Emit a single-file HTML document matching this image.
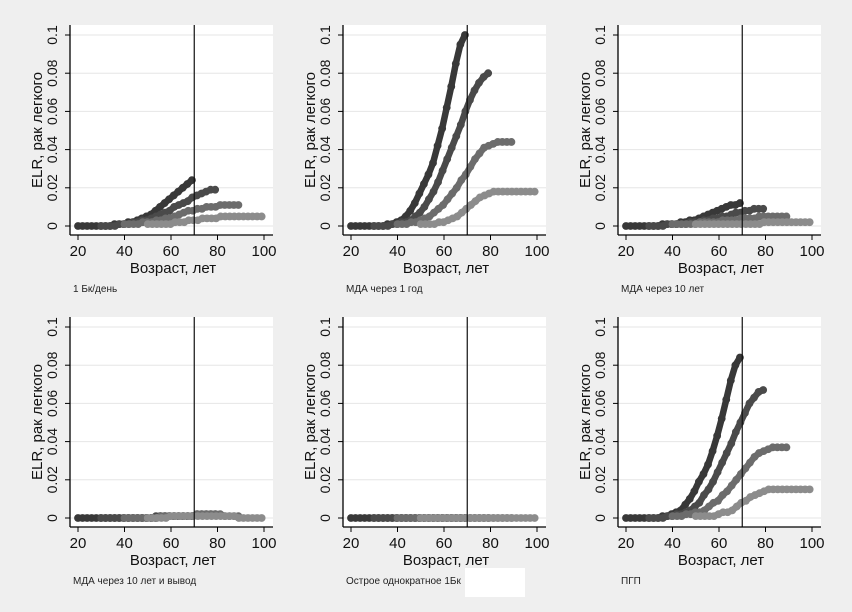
<!DOCTYPE html>
<html><head><meta charset="utf-8"><style>
html,body{margin:0;padding:0;background:#efefef}
svg{display:block;font-family:"Liberation Sans",sans-serif}
</style></head><body>
<svg id="chart" width="852" height="612" viewBox="0 0 852 612"></svg>
<script>
const panelTitles = ["1 Бк/день","МДА через 1 год","МДА через 10 лет","МДА через 10 лет и вывод","Острое однократное 1Бк","ПГП"];
const seriesStarts = [20,30,40,50];
const ageStep = 1.96;
const xTicks = [20,40,60,80,100];
const yTicks = [0,0.02,0.04,0.06,0.08,0.1];
const yTickLabels = ["0","0.02","0.04","0.06","0.08","0.1"];
const refAge = 70;
const p1s1=[0,0,0,0,0,0,0,0,0.001,0.001,0.001,0.002,0.002,0.003,0.004,0.005,0.006,0.008,0.010,0.012,0.014,0.016,0.018,0.020,0.022,0.024];
const p1s2=[0,0,0,0,0.001,0.001,0.001,0.002,0.002,0.003,0.003,0.004,0.005,0.006,0.007,0.008,0.010,0.011,0.012,0.013,0.015,0.016,0.017,0.018,0.019,0.019];
const p1s3=[0.001,0.001,0.001,0.001,0.002,0.002,0.002,0.003,0.003,0.004,0.004,0.005,0.006,0.007,0.008,0.008,0.009,0.009,0.010,0.010,0.010,0.011,0.011,0.011,0.011,0.011];
const p1s4=[0.001,0.001,0.001,0.001,0.001,0.001,0.002,0.002,0.002,0.003,0.003,0.003,0.004,0.004,0.004,0.004,0.005,0.005,0.005,0.005,0.005,0.005,0.005,0.005,0.005,0.005];
const p2s1=[0,0,0,0,0,0,0,0,0.001,0.001,0.002,0.003,0.005,0.008,0.012,0.017,0.022,0.027,0.033,0.042,0.051,0.062,0.073,0.085,0.095,0.100];
const p2s2=[0,0,0,0,0.001,0.001,0.002,0.002,0.003,0.005,0.007,0.010,0.014,0.018,0.023,0.029,0.035,0.041,0.047,0.053,0.060,0.066,0.071,0.075,0.078,0.080];
const p2s3=[0.001,0.001,0.001,0.002,0.002,0.003,0.004,0.005,0.007,0.009,0.011,0.014,0.017,0.020,0.024,0.027,0.031,0.035,0.038,0.041,0.042,0.043,0.044,0.044,0.044,0.044];
const p2s4=[0.001,0.001,0.001,0.001,0.002,0.002,0.003,0.004,0.005,0.007,0.009,0.011,0.013,0.015,0.016,0.017,0.018,0.018,0.018,0.018,0.018,0.018,0.018,0.018,0.018,0.018];
const p3s1=[0,0,0,0,0,0,0,0,0.001,0.001,0.001,0.001,0.002,0.002,0.003,0.003,0.004,0.005,0.006,0.007,0.008,0.009,0.010,0.011,0.011,0.012];
const p3s2=[0,0,0,0,0.001,0.001,0.001,0.001,0.001,0.002,0.002,0.002,0.003,0.003,0.004,0.004,0.005,0.005,0.006,0.007,0.007,0.008,0.008,0.009,0.009,0.009];
const p3s3=[0.001,0.001,0.001,0.001,0.001,0.001,0.002,0.002,0.002,0.002,0.002,0.003,0.003,0.003,0.003,0.004,0.004,0.004,0.004,0.005,0.005,0.005,0.005,0.005,0.005,0.005];
const p3s4=[0.001,0.001,0.001,0.001,0.001,0.001,0.001,0.001,0.001,0.001,0.001,0.001,0.001,0.001,0.001,0.002,0.002,0.002,0.002,0.002,0.002,0.002,0.002,0.002,0.002,0.002];
const p4s1=[0,0,0,0,0,0,0,0,0,0,0,0,0,0,0,0,0,0,0.001,0.001,0.001,0.001,0.001,0.001,0.001,0.001];
const p4s2=[0,0,0,0,0,0,0,0,0,0,0,0,0.001,0.001,0.001,0.001,0.001,0.001,0.001,0.001,0.001,0.002,0.002,0.002,0.002,0.002];
const p4s3=[0,0,0,0,0,0,0,0,0.001,0.001,0.001,0.001,0.001,0.001,0.001,0.001,0.002,0.002,0.002,0.002,0.002,0.002,0.001,0.001,0.001,0.001];
const p4s4=[0,0,0,0,0,0.001,0.001,0.001,0.001,0.001,0.001,0.001,0.001,0.001,0.001,0.001,0.001,0.001,0.001,0.001,0,0,0,0,0,0];
const p5s1=[0,0,0,0,0,0,0,0,0,0,0,0,0,0,0,0,0,0,0,0,0,0,0,0,0,0];
const p5s2=[0,0,0,0,0,0,0,0,0,0,0,0,0,0,0,0,0,0,0,0,0,0,0,0,0,0];
const p5s3=[0,0,0,0,0,0,0,0,0,0,0,0,0,0,0,0,0,0,0,0,0,0,0,0,0,0];
const p5s4=[0,0,0,0,0,0,0,0,0,0,0,0,0,0,0,0,0,0,0,0,0,0,0,0,0,0];
const p6s1=[0,0,0,0,0,0,0,0,0.001,0.001,0.002,0.003,0.004,0.007,0.010,0.014,0.019,0.023,0.028,0.035,0.043,0.052,0.062,0.072,0.080,0.084];
const p6s2=[0,0,0,0,0.001,0.001,0.002,0.002,0.003,0.004,0.006,0.008,0.012,0.015,0.019,0.024,0.029,0.034,0.039,0.045,0.050,0.055,0.060,0.063,0.066,0.067];
const p6s3=[0.001,0.001,0.001,0.002,0.002,0.003,0.003,0.004,0.006,0.008,0.009,0.012,0.014,0.017,0.020,0.023,0.026,0.029,0.032,0.034,0.035,0.036,0.037,0.037,0.037,0.037];
const p6s4=[0.001,0.001,0.001,0.001,0.001,0.002,0.003,0.003,0.004,0.006,0.008,0.009,0.011,0.012,0.013,0.014,0.015,0.015,0.015,0.015,0.015,0.015,0.015,0.015,0.015,0.015];
const panelSeries=[[p1s1,p1s2,p1s3,p1s4],[p2s1,p2s2,p2s3,p2s4],[p3s1,p3s2,p3s3,p3s4],[p4s1,p4s2,p4s3,p4s4],[p5s1,p5s2,p5s3,p5s4],[p6s1,p6s2,p6s3,p6s4]];

const svg=document.getElementById('chart');
const NS='http://www.w3.org/2000/svg';
const colors=['#383838','#4a4a4a','#6c6c6c','#8c8c8c'];
const axisXs=[70,343,618], rowOff=[0,292];
function mk(tag,attrs,parent){const e=document.createElementNS(NS,tag);for(const k in attrs)e.setAttribute(k,attrs[k]);(parent||svg).appendChild(e);return e;}

panelSeries.forEach((series,pi)=>{
  const ax=axisXs[pi%3], oy=rowOff[Math.floor(pi/3)];
  const g=mk('g',{});
  
  
  const xs=a=>ax+8+(a-20)*186/80;
  const ys=v=>oy+226-v*1910;
  const bg=mk('rect',{x:ax,y:oy+25,width:203,height:210,fill:'#ffffff'},g);
  
  
  yTicks.forEach((t,i)=>{
    const y=ys(t);
    const gl=mk('line',{x1:ax,x2:ax+203,y1:y,y2:y,stroke:'#e6e6e6','stroke-width':1},g);
    
    
    mk('line',{x1:ax-5,x2:ax,y1:y,y2:y,stroke:'#000','stroke-width':1},g);
    const tl=mk('text',{x:0,y:0,transform:`translate(${ax-13},${y}) rotate(-90)`,'text-anchor':'middle','font-size':14,fill:'#111'},g);
    tl.textContent=yTickLabels[i];
    
    
  });
  xTicks.forEach(t=>{
    const x=xs(t);
    mk('line',{x1:x,x2:x,y1:oy+235,y2:oy+240,stroke:'#000','stroke-width':1},g);
    const tl=mk('text',{x:x,y:oy+256,'text-anchor':'middle','font-size':15,fill:'#111'},g);
    tl.textContent=t;
    
    
  });
  series.forEach((vals,si)=>{
    const sg=mk('g',{fill:colors[si]},g);
    
    
    const pts=vals.map((v,k)=>[xs(seriesStarts[si]+k*ageStep),ys(v)]);
    mk('polyline',{points:pts.map(p=>p.join(',')).join(' '),fill:'none',stroke:colors[si],'stroke-width':6.5,'stroke-linejoin':'round'},sg);
    pts.forEach(p=>{
      const c=mk('circle',{cx:p[0],cy:p[1],r:3.9},sg);
      
      
    });
  });
  const rl=mk('line',{x1:xs(refAge),x2:xs(refAge),y1:oy+25,y2:oy+235,stroke:'#111','stroke-width':1.2},g);
  
  
  mk('line',{x1:ax,x2:ax,y1:oy+25,y2:oy+235,stroke:'#000','stroke-width':1.3},g);
  mk('line',{x1:ax,x2:ax+203,y1:oy+235,y2:oy+235,stroke:'#000','stroke-width':1.3},g);
  const xt=mk('text',{x:ax+103,y:oy+273,'text-anchor':'middle','font-size':15,fill:'#111'},g);
  xt.textContent='Возраст, лет';
  
  
  const yt=mk('text',{x:0,y:0,transform:`translate(${ax-28},${oy+130}) rotate(-90)`,'text-anchor':'middle','font-size':15,fill:'#111'},g);
  yt.textContent='ELR, рак легкого';
  
  
  const cap=mk('text',{x:ax+3,y:oy+292,'font-size':10,fill:'#222'},g);
  cap.textContent=panelTitles[pi];
  
  
});
const wb=mk('rect',{x:465,y:568,width:60,height:29,fill:'#ffffff'});


</script>
</body></html>
